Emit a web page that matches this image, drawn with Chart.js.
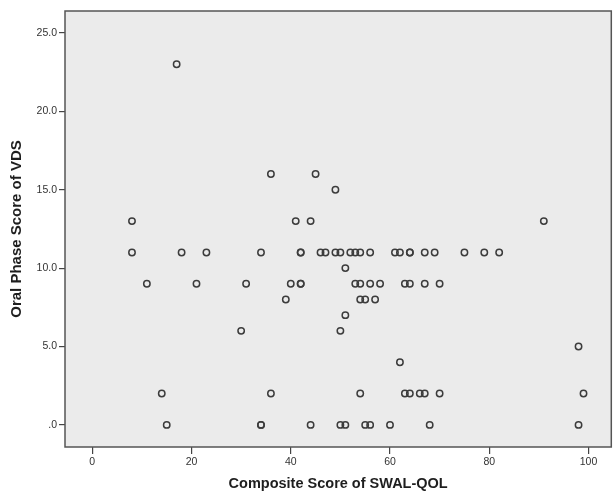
<!DOCTYPE html>
<html lang="en">
  <head>
    <meta charset="UTF-8" />
    <title>Oral Phase Score vs SWAL-QOL</title>
    <script src="https://cdn.jsdelivr.net/npm/chart.js@4.4.0/dist/chart.umd.min.js"></script>
    <style>
      body { margin: 0; background: #fff; }
    </style>
  </head>
  <body>
    <canvas id="chart" width="616" height="493"></canvas>

    <script>
      // composite SWAL-QOL score (x) and oral phase VDS score (y)
      const swalQol = [
        17,
        8, 41, 44, 91,
        36, 45,
        49,
        8, 18, 23, 34, 42, 42, 46, 47, 49, 50, 52, 53, 54, 56, 61, 62, 64, 64, 67, 69, 75, 79, 82,
        51,
        11, 21, 31, 40, 42, 42, 53, 54, 56, 58, 63, 64, 67, 70,
        39, 54, 55, 57,
        51,
        30, 50,
        98,
        62,
        14, 36, 54, 63, 64, 66, 67, 70, 99,
        15, 34, 34, 44, 50, 51, 55, 56, 60, 68, 98
      ];
      const oralPhase = [
        23,
        13, 13, 13, 13,
        16, 16,
        15,
        11, 11, 11, 11, 11, 11, 11, 11, 11, 11, 11, 11, 11, 11, 11, 11, 11, 11, 11, 11, 11, 11, 11,
        10,
        9, 9, 9, 9, 9, 9, 9, 9, 9, 9, 9, 9, 9, 9,
        8, 8, 8, 8,
        7,
        6, 6,
        5,
        4,
        2, 2, 2, 2, 2, 2, 2, 2, 2,
        0, 0, 0, 0, 0, 0, 0, 0, 0, 0, 0
      ];
      const xTicks = [0, 20, 40, 60, 80, 100];
      const yTicks = [0, 5, 10, 15, 20, 25];

      const points = swalQol.map((x, i) => ({ x: x, y: oralPhase[i] }));

      // grey plot background and the dark frame around it
      const plotFrame = {
        id: "plotFrame",
        beforeDatasetsDraw(chart) {
          const { ctx, chartArea: a } = chart;
          ctx.save();
          ctx.fillStyle = "#ebebeb";
          ctx.fillRect(a.left, a.top, a.right - a.left, a.bottom - a.top);
          ctx.strokeStyle = "#555";
          ctx.lineWidth = 1.5;
          ctx.strokeRect(a.left, a.top, a.right - a.left, a.bottom - a.top);
          ctx.restore();
        },
      };

      const tickFont = { family: "Liberation Sans", size: 10.5 };

      new Chart(document.getElementById("chart"), {
        type: "scatter",
        data: {
          datasets: [
            {
              data: points,
              pointRadius: 3.2,
              pointHoverRadius: 3.2,
              pointBorderWidth: 1.5,
              borderColor: "#3c3c3c",
              backgroundColor: "rgba(0,0,0,0)",
            },
          ],
        },
        options: {
          responsive: false,
          animation: false,
          layout: { padding: { top: 11, right: 3, left: 0, bottom: 0 } },
          plugins: {
            legend: { display: false },
            tooltip: { enabled: false },
          },
          scales: {
            x: {
              type: "linear",
              min: -5.5,
              max: 104.6,
              afterBuildTicks: (s) => { s.ticks = xTicks.map((v) => ({ value: v })); },
              afterFit: (s) => { s.height = 46; },
              grid: { drawOnChartArea: false, drawTicks: true, tickLength: 7, color: "#444", lineWidth: 1.2 },
              border: { display: false },
              ticks: { font: tickFont, color: "#333", padding: 2, maxRotation: 0 },
              title: {
                display: true,
                text: "Composite Score of SWAL-QOL",
                font: { family: "Liberation Sans", size: 14.5, weight: "bold" },
                color: "#1e1e1e",
                padding: { top: 0, bottom: 0 },
              },
            },
            y: {
              type: "linear",
              min: -1.41,
              max: 26.4,
              afterBuildTicks: (s) => { s.ticks = yTicks.map((v) => ({ value: v })); },
              afterFit: (s) => { s.width = 65; },
              grid: { drawOnChartArea: false, drawTicks: true, tickLength: 6, color: "#444", lineWidth: 1.2 },
              border: { display: false },
              ticks: {
                font: tickFont,
                color: "#333",
                padding: 2,
                callback: (v) => (v === 0 ? ".0" : v.toFixed(1)),
              },
              title: {
                display: true,
                text: "Oral Phase Score of VDS",
                font: { family: "Liberation Sans", size: 15, weight: "bold" },
                color: "#1e1e1e",
                padding: { top: 8, bottom: 0 },
              },
            },
          },
        },
        plugins: [plotFrame],
      });
    </script>
  </body>
</html>
